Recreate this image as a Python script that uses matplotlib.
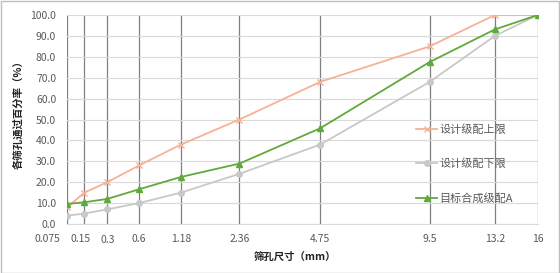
import matplotlib
matplotlib.use("Agg")
import matplotlib.pyplot as plt
from matplotlib.patches import Rectangle

plt.rcParams['font.family'] = ['Noto Sans CJK SC', 'DejaVu Sans']

# sieve sizes (mm) and passing percentages
sieves = [0.075, 0.15, 0.3, 0.6, 1.18, 2.36, 4.75, 9.5, 13.2, 16]
sieve_labels = ['0.075', '0.15', '0.3', '0.6', '1.18', '2.36', '4.75', '9.5', '13.2', '16']
upper = [8, 15, 20, 28, 38, 50, 68, 85, 100, 100]
lower = [4, 5, 7, 10, 15, 24, 38, 68, 90, 100]
target = [9.6, 10.4, 12.0, 16.6, 22.5, 28.9, 45.8, 77.5, 93.1, 100]

fig = plt.figure(figsize=(5.6, 2.73), dpi=100)
W, H = 560, 273
ax = fig.add_axes([67.3 / W, 1 - 224 / H, (537.7 - 67.3) / W, (224 - 15) / H])

# 0.45 power scale used for gradation curves
ax.set_xscale('function', functions=(lambda x: x ** 0.45, lambda x: x ** (1 / 0.45)))
ax.set_xlim(0.075, 16)
ax.set_ylim(0, 100)

ax.plot(sieves, upper, color='#F8B195', lw=1.3, marker='x', ms=4, mew=1, label='设计级配上限', zorder=3)
ax.plot(sieves, lower, color='#C8C8C8', lw=1.3, marker='o', ms=4, label='设计级配下限', zorder=3)
ax.plot(sieves, target, color='#5FAA3A', lw=1.3, marker='^', ms=4.5, label='目标合成级配A', zorder=4)

ax.set_yticks(range(0, 101, 10))
ax.set_yticklabels(['%.1f' % v for v in range(0, 101, 10)])
ax.tick_params(axis='y', length=0, pad=8, labelsize=7.5, labelcolor='#595959')
ax.set_xticks(sieves)
ax.set_xticklabels([])
ax.tick_params(axis='x', length=0)
ax.minorticks_off()
ax.grid(axis='y', color='#D9D9D9', lw=0.8)
ax.grid(axis='x', color='#7F7F7F', lw=0.9)
ax.set_axisbelow(True)
for s in ['top', 'right', 'left']:
    ax.spines[s].set_visible(False)
ax.spines['bottom'].set_color('#D9D9D9')

# x labels, first two shifted like the original
offsets = {'0.075': -14, '0.15': -3}
for v, lab in zip(sieves, sieve_labels):
    dy = -11.5 if lab == '0.3' else -10.8
    ax.annotate(lab, xy=(v, 0), xycoords=('data', 'axes fraction'),
                xytext=(offsets.get(lab, 0), dy), textcoords='offset points',
                ha='center', va='center', fontsize=7.5, color='#595959')

fig.text(295 / W, 1 - 257 / H, '筛孔尺寸（mm）', ha='center', va='center',
         fontsize=7.5, fontweight='bold', color='#222222')
fig.text(18 / W, 1 - 112 / H, '各筛孔通过百分率（%）', ha='center', va='center',
         rotation=90, fontsize=7.5, fontweight='bold', color='#222222')

leg = ax.legend(loc='center left', bbox_to_anchor=(416 / W, 1 - 164 / H),
                bbox_transform=fig.transFigure, frameon=False, fontsize=8,
                handlelength=1.9, handletextpad=0.2, labelspacing=2.1,
                borderpad=0, borderaxespad=0)
for t in leg.get_texts():
    t.set_color('#595959')

fig.patches.append(Rectangle((0.5 / W, 0.5 / H), 1 - 1.5 / W, 1 - 1.5 / H,
                             transform=fig.transFigure, fill=False,
                             edgecolor='#BFBFBF', lw=1))

fig.savefig('out.png', dpi=100)
